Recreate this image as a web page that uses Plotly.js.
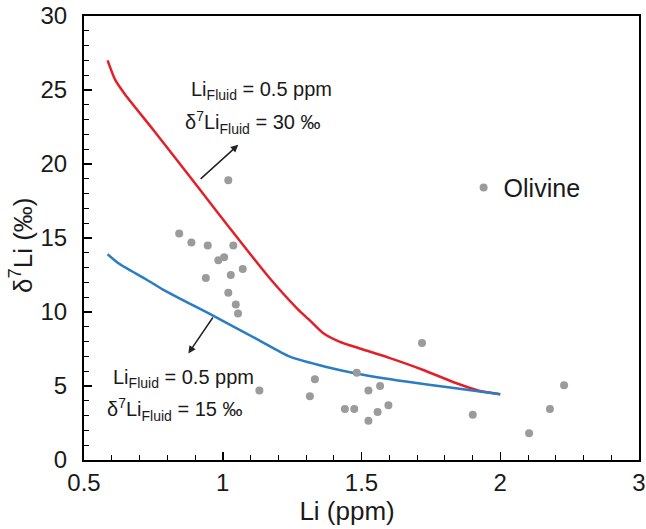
<!DOCTYPE html>
<html>
<head>
<meta charset="utf-8">
<script src="https://cdn.plot.ly/plotly-3.0.1.min.js"></script>
<style>html,body{margin:0;padding:0;background:#fff;}#chart{width:646px;height:529px;}</style>
</head>
<body>
<div id="chart"></div>
<script>
// Olivine measurements (x in axis units as drawn; the original's last tick is labelled "3")
var olivineLi = [1.020, 0.843, 0.887, 0.946, 1.038, 0.984, 1.005, 1.072, 0.939, 1.029, 1.020, 1.047, 1.055,
                 1.132, 1.332, 1.314, 1.483, 1.525, 1.567, 1.440, 1.474, 1.525, 1.558, 1.597,
                 1.718, 1.901, 2.104, 2.179, 2.230];
var olivineD7Li = [18.9, 15.3, 14.7, 14.5, 14.5, 13.5, 13.7, 12.9, 12.3, 12.5, 11.3, 10.5, 9.9,
                   4.7, 5.45, 4.3, 5.9, 4.7, 5.0, 3.45, 3.45, 2.65, 3.25, 3.7,
                   7.9, 3.05, 1.8, 3.45, 5.05];

// Model curve, fluid d7Li = 30 permil
var model30Li  = [0.585, 0.612, 0.648, 0.75, 0.9, 1.02, 1.164, 1.27, 1.31, 1.36, 1.42, 1.5, 1.6, 1.72, 1.84, 1.92, 2.0];
var model30D7  = [27.0, 25.7, 24.7, 22.3, 18.7, 15.8, 12.4, 10.2, 9.5, 8.6, 8.0, 7.5, 6.9, 6.1, 5.2, 4.7, 4.45];

// Model curve, fluid d7Li = 15 permil
var model15Li  = [0.585, 0.624, 0.72, 0.786, 0.96, 1.13, 1.24, 1.37, 1.48, 1.66, 1.84, 2.0];
var model15D7  = [13.9, 13.3, 12.25, 11.5, 9.8, 8.1, 7.0, 6.3, 5.85, 5.3, 4.85, 4.45];

var xTickVals = [0.5, 1, 1.5, 2, 2.5];
var xTickText = ['0.5', '1', '1.5', '2', '3'];

var FONT = 'Liberation Sans, Arial, sans-serif';

var traces = [
  {x: model30Li, y: model30D7, mode: 'lines', line: {color: '#e3202a', width: 2.5, shape: 'spline', smoothing: 0.6}, showlegend: false, hoverinfo: 'skip'},
  {x: model15Li, y: model15D7, mode: 'lines', line: {color: '#2a7cc4', width: 2.5, shape: 'spline', smoothing: 0.6}, showlegend: false, hoverinfo: 'skip'},
  {x: olivineLi, y: olivineD7Li, mode: 'markers', name: 'Olivine',
   marker: {color: '#9b9b9b', size: 8}}
];

var layout = {
  width: 646, height: 529,
  margin: {l: 84, r: 7, t: 16, b: 69},
  paper_bgcolor: '#fff', plot_bgcolor: '#fff',
  font: {family: FONT, color: '#1a1a1a', size: 22},
  xaxis: {
    range: [0.5, 2.5], tickmode: 'array', tickvals: xTickVals, ticktext: xTickText,
    ticks: 'inside', ticklen: 8, tickwidth: 1.5, tickcolor: '#000',
    showline: true, linecolor: '#000', linewidth: 2, mirror: true,
    showgrid: false, zeroline: false,
    tickfont: {size: 24},
    minor: {tickmode: 'linear', tick0: 0.5, dtick: 0.1, ticks: 'inside', ticklen: 5, tickwidth: 1, tickcolor: '#000', showgrid: false},
    title: {text: 'Li (ppm)&nbsp;&nbsp;&nbsp;&nbsp;', font: {size: 26}, standoff: 2}
  },
  yaxis: {
    range: [0, 30], tickmode: 'linear', tick0: 0, dtick: 5,
    ticks: 'inside', ticklen: 8, tickwidth: 1.5, tickcolor: '#000',
    showline: true, linecolor: '#000', linewidth: 2, mirror: true,
    showgrid: false, zeroline: false,
    tickfont: {size: 24}, ticklabelstandoff: 10,
    minor: {tickmode: 'linear', tick0: 0, dtick: 1, ticks: 'inside', ticklen: 5, tickwidth: 1, tickcolor: '#000', showgrid: false},
    title: {text: 'δ<sup>7</sup>Li (‰)&nbsp;&nbsp;', font: {size: 26}, standoff: 0}
  },
  showlegend: true,
  legend: {x: 0.684, y: 0.665, xanchor: 'left', yanchor: 'top', bgcolor: 'rgba(0,0,0,0)', font: {size: 25}},
  annotations: [
    {x: 1.056, y: 21.3, ax: 0.915, ay: 18.9, xref: 'x', yref: 'y', axref: 'x', ayref: 'y',
     text: '', showarrow: true, arrowhead: 2, arrowsize: 1, arrowwidth: 1.5, arrowcolor: '#222'},
    {x: 0.876, y: 7.2, ax: 0.968, ay: 9.73, xref: 'x', yref: 'y', axref: 'x', ayref: 'y',
     text: '', showarrow: true, arrowhead: 2, arrowsize: 1, arrowwidth: 1.5, arrowcolor: '#222'},
    {x: 1.14, y: 24.95, xref: 'x', yref: 'y', showarrow: false, xanchor: 'center',
     text: 'Li<sub>Fluid</sub> = 0.5 ppm', font: {size: 20}},
    {x: 1.107, y: 22.8, xref: 'x', yref: 'y', showarrow: false, xanchor: 'center',
     text: 'δ<sup>7</sup>Li<sub>Fluid</sub> = 30 ‰', font: {size: 20}},
    {x: 0.858, y: 5.5, xref: 'x', yref: 'y', showarrow: false, xanchor: 'center',
     text: 'Li<sub>Fluid</sub> = 0.5 ppm', font: {size: 20}},
    {x: 0.825, y: 3.4, xref: 'x', yref: 'y', showarrow: false, xanchor: 'center',
     text: 'δ<sup>7</sup>Li<sub>Fluid</sub> = 15 ‰', font: {size: 20}}
  ]
};

Plotly.newPlot('chart', traces, layout, {displayModeBar: false, staticPlot: true});
</script>
</body>
</html>
